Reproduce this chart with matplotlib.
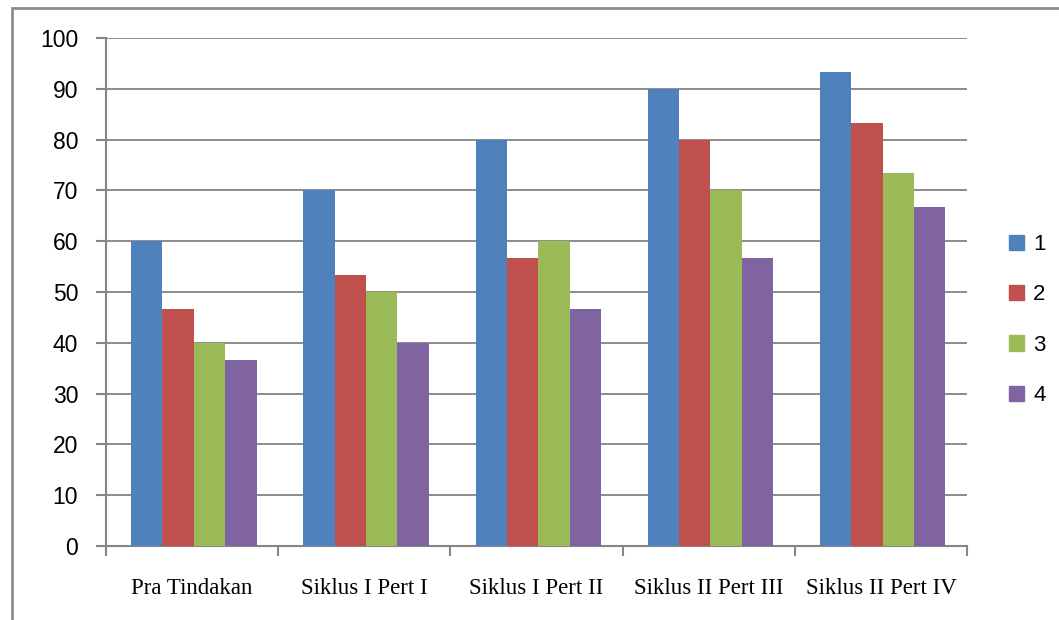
import matplotlib
matplotlib.use("Agg")
import matplotlib.pyplot as plt
from matplotlib.patches import Rectangle, Patch
import numpy as np

categories = ["Pra Tindakan", "Siklus I Pert I", "Siklus I Pert II",
              "Siklus II Pert III", "Siklus II Pert IV"]
series_names = ["1", "2", "3", "4"]
s1 = [60, 70, 80, 90, 93.33]
s2 = [46.67, 53.33, 56.67, 80, 83.33]
s3 = [40, 50, 60, 70, 73.33]
s4 = [36.67, 40, 46.67, 56.67, 66.67]
colors = ["#4f81bd", "#c0504d", "#9bbb59", "#8064a2"]

fig = plt.figure(figsize=(10.59, 6.2), dpi=100)
ax = fig.add_axes([106/1059, 1-546/620, (967-106)/1059, (546-38)/620])

# outer chart frame (right/bottom edges run off the picture)
fig.patches.append(Rectangle((12/1059, -0.05), 1.2, 1-8/620+0.05,
                             transform=fig.transFigure, fill=False,
                             edgecolor="#8c8c8c", linewidth=2))

x = np.arange(len(categories))
w = 0.182
data = [s1, s2, s3, s4]
for i, vals in enumerate(data):
    ax.bar(x + (i - 1.5) * w + 0.01, vals, width=w, color=colors[i], zorder=3,
           label=series_names[i])

ax.set_xlim(-0.5, len(categories) - 0.5)
ax.set_ylim(0, 100)
ax.set_yticks(range(0, 101, 10))
ax.set_xticks(np.arange(-0.5, len(categories)), minor=False)
ax.set_xticklabels([])
ax.set_xticks(x, minor=True)
ax.set_xticklabels(categories, minor=True, fontfamily="Liberation Serif", fontsize=16.5)
ax.tick_params(axis="x", which="minor", length=0, pad=23)
ax.tick_params(axis="x", which="major", length=7, color="#868686", width=1.5)
ax.tick_params(axis="y", length=7, color="#868686", width=1.5, labelsize=16.5, pad=13)
for lab in ax.get_yticklabels():
    lab.set_fontfamily("Liberation Sans")

ax.grid(axis="y", color="#8c8c8c", linewidth=1.4, zorder=0)
for s in ["top", "right"]:
    ax.spines[s].set_visible(False)
for s in ["left", "bottom"]:
    ax.spines[s].set_color("#868686")
    ax.spines[s].set_linewidth(1.5)

handles = [Patch(color=c) for c in colors]
fig.legend(handles, series_names, loc="center left",
           bbox_to_anchor=(1009/1059, 1-320/620), frameon=False,
           prop={"family": "Liberation Sans", "size": 16},
           handlelength=0.68, handleheight=0.68, handletextpad=0.4,
           labelspacing=1.32, borderpad=0, borderaxespad=0)

fig.savefig("out.png", dpi=100)
